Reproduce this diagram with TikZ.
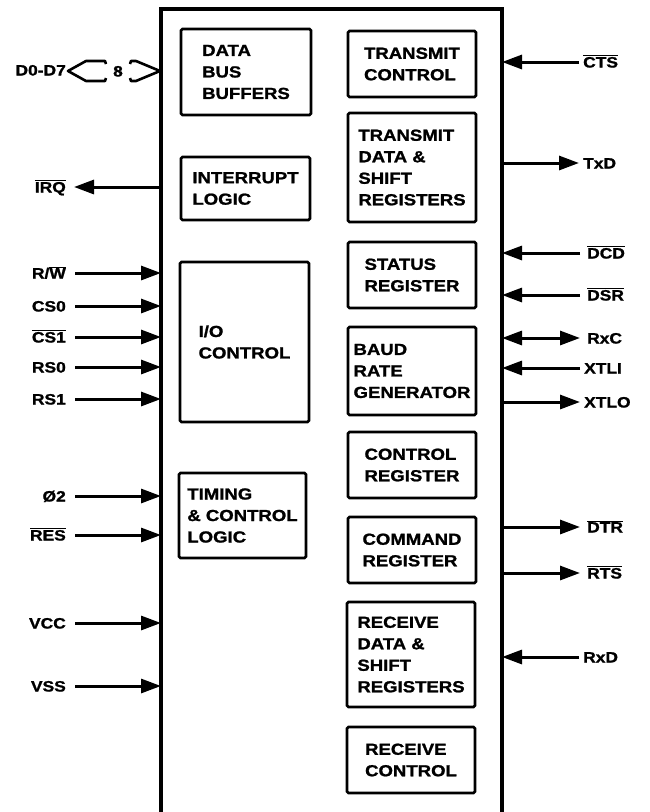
\documentclass[tikz,border=0pt]{standalone}
\usepackage{fontspec}
\setmainfont[FakeStretch=1.16, BoldFeatures={FakeBold=1.3}]{Liberation Sans}
\usetikzlibrary{arrows.meta}
\newcommand{\ovl}[1]{$\overline{\mbox{#1}}$}

\begin{document}
\begin{tikzpicture}[x=1pt, y=-1pt, >={Triangle[length=20pt,width=14pt]},
  blk/.style={draw, line width=2.8pt, rounded corners=1.5pt, align=left, inner sep=0pt,
    font=\fontsize{16}{21.5}\selectfont\bfseries},
  pin/.style={inner sep=4pt, text height=11pt, text depth=0pt,
    font=\fontsize{15}{18}\selectfont\bfseries},
  sig/.style={line width=3pt}]

\useasboundingbox (0,0) rectangle (649,812);

% Chip outline (open at the bottom)
\coordinate (chipL) at (161,0);
\coordinate (chipR) at (502,0);
\draw[line width=3.5pt] (161,812) -- (161,9) -- (502,9) -- (502,812);

% Left column of blocks
\node[blk, minimum width=130, minimum height=86] (dbb) at (246,72) {DATA\\BUS\\BUFFERS};
\node[blk, minimum width=129, minimum height=63] (irq) at (245.5,188.5) {INTERRUPT\\LOGIC};
\node[blk, minimum width=129, minimum height=160] (ioc) at (244.5,342) {I/O\\CONTROL};
\node[blk, minimum width=127, minimum height=85] (tcl) at (242.5,515.5) {TIMING\\\& CONTROL\\LOGIC};

% Right column of blocks
\node[blk, minimum width=128, minimum height=66] (txc) at (412,64) {TRANSMIT\\CONTROL};
\node[blk, minimum width=128, minimum height=109] (txd) at (412,167.5) {TRANSMIT\\DATA \&\\SHIFT\\REGISTERS};
\node[blk, minimum width=128, minimum height=66] (str) at (412,275) {STATUS\\REGISTER};
\node[blk, minimum width=128, minimum height=88] (brg) at (412,371) {BAUD\\RATE\\GENERATOR};
\node[blk, minimum width=128, minimum height=66] (ctr) at (412,465) {CONTROL\\REGISTER};
\node[blk, minimum width=128, minimum height=66] (cmd) at (412,550) {COMMAND\\REGISTER};
\node[blk, minimum width=128, minimum height=105] (rxd) at (411,654.5) {RECEIVE\\DATA \&\\SHIFT\\REGISTERS};
\node[blk, minimum width=128, minimum height=66] (rxc) at (411,760) {RECEIVE\\CONTROL};

% Data bus
\node[pin, anchor=east] (d07) at (70,70) {D0-D7};
\node[pin] (width8) at (118,71) {8};
\coordinate (busL) at (68,71);
\coordinate (busR) at (160,71);
\draw[line width=2.6pt, line join=round] (106,64) -- (105,61) -- (86,61) -- (busL) -- (86,81) -- (105,81) -- (106,78);
\draw[line width=2.6pt, line join=round] (130,64) -- (131,61) -- (136,61) -- (busR) -- (136,81) -- (131,81) -- (130,78);

% Left pins
\node[pin, anchor=east] (irqpin) at (70,187) {\ovl{IRQ}};
\draw[sig, ->] (irqpin.east -| chipL) -- ([xshift=4pt]irqpin.east);

\node[pin, anchor=east] (rw) at (70,273) {R/\ovl{W}};
\draw[sig, ->] ([xshift=5pt]rw.east) -- (rw.east -| chipL);

\node[pin, anchor=east] (cs0) at (70,306) {CS0};
\draw[sig, ->] ([xshift=5pt]cs0.east) -- (cs0.east -| chipL);

\node[pin, anchor=east] (cs1) at (70,337) {\ovl{CS1}};
\draw[sig, ->] ([xshift=5pt]cs1.east) -- (cs1.east -| chipL);

\node[pin, anchor=east] (rs0) at (70,367) {RS0};
\draw[sig, ->] ([xshift=5pt]rs0.east) -- (rs0.east -| chipL);

\node[pin, anchor=east] (rs1) at (70,399) {RS1};
\draw[sig, ->] ([xshift=5pt]rs1.east) -- (rs1.east -| chipL);

\node[pin, anchor=east] (phi2) at (70,496) {Ø2};
\draw[sig, ->] ([xshift=5pt]phi2.east) -- (phi2.east -| chipL);

\node[pin, anchor=east] (res) at (70,535) {\ovl{RES}};
\draw[sig, ->] ([xshift=5pt]res.east) -- (res.east -| chipL);

\node[pin, anchor=east] (vcc) at (70,623) {VCC};
\draw[sig, ->] ([xshift=5pt]vcc.east) -- (vcc.east -| chipL);

\node[pin, anchor=east] (vss) at (70,686) {VSS};
\draw[sig, ->] ([xshift=5pt]vss.east) -- (vss.east -| chipL);

% Right pins
\node[pin, anchor=west] (cts) at (579,62) {\ovl{CTS}};
\draw[sig, ->] (cts.west) -- (cts.west -| chipR);

\node[pin, anchor=west] (txdpin) at (579,163) {TxD};
\draw[sig, ->] (txdpin.west -| chipR) -- (txdpin.west);

\node[pin, anchor=west] (dcd) at (583,253) {\ovl{DCD}};
\draw[sig, ->] ([xshift=-3pt]dcd.west) -- (dcd.west -| chipR);

\node[pin, anchor=west] (dsr) at (583,295) {\ovl{DSR}};
\draw[sig, ->] ([xshift=-3pt]dsr.west) -- (dsr.west -| chipR);

\node[pin, anchor=west] (rxcpin) at (583,338) {RxC};
\draw[sig, <->] (rxcpin.west -| chipR) -- ([xshift=-3pt]rxcpin.west);

\node[pin, anchor=west] (xtli) at (580,368) {XTLI};
\draw[sig, ->] (xtli.west) -- (xtli.west -| chipR);

\node[pin, anchor=west] (xtlo) at (580,402) {XTLO};
\draw[sig, ->] (xtlo.west -| chipR) -- (xtlo.west);

\node[pin, anchor=west] (dtr) at (583,527) {\ovl{DTR}};
\draw[sig, ->] (dtr.west -| chipR) -- ([xshift=-3pt]dtr.west);

\node[pin, anchor=west] (rts) at (583,573) {\ovl{RTS}};
\draw[sig, ->] (rts.west -| chipR) -- ([xshift=-3pt]rts.west);

\node[pin, anchor=west] (rxdpin) at (579,657) {RxD};
\draw[sig, ->] (rxdpin.west) -- (rxdpin.west -| chipR);

\end{tikzpicture}
\end{document}
